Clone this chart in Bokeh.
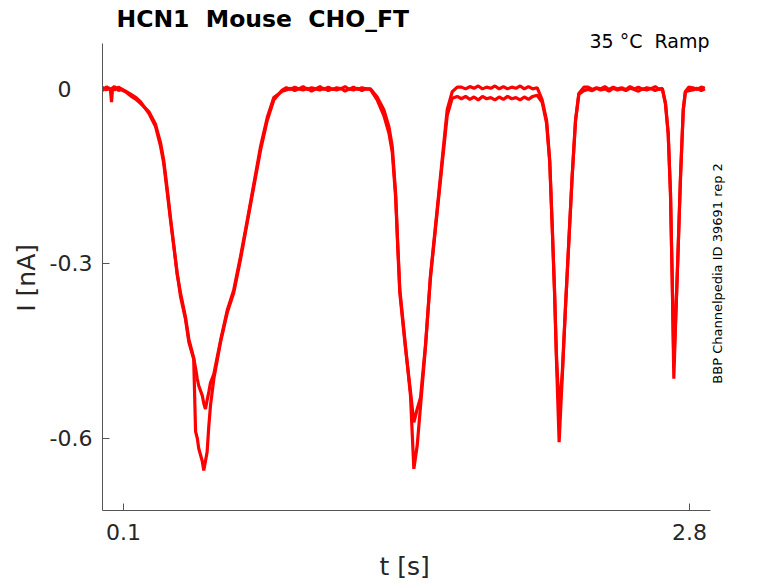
import math
from bokeh.plotting import figure
from bokeh.models import Range1d, FixedTicker, Label
from bokeh.embed import file_html
from bokeh.resources import INLINE

# ---- recorded current traces, two sweeps, split into segments ----
# time [s] / current [nA] of sweep 1 / current [nA] of sweep 2
t_start = [0.000, 0.010, 0.019, 0.029, 0.038, 0.043, 0.048, 0.057, 0.067, 0.076, 0.086]
s1_start = [0.004, 0.000, 0.005, 0.001, -0.001, -0.022, 0.002, 0.005, 0.001, 0.004, 0.002]
s2_start = [-0.002, 0.002, -0.001, 0.003, 0.000, 0.001, 0.003, -0.001, 0.002, -0.002, 0.000]

t_spike1 = [0.110, 0.134, 0.160, 0.181, 0.221, 0.253, 0.277, 0.292, 0.309, 0.324,
            0.340, 0.356, 0.372, 0.396, 0.412, 0.435, 0.444, 0.452, 0.459, 0.476,
            0.483, 0.491, 0.499, 0.507, 0.515, 0.531, 0.563, 0.595, 0.626, 0.658,
            0.690, 0.722, 0.754, 0.786, 0.817, 0.857]
s1_spike1 = [-0.003, -0.008, -0.014, -0.021, -0.041, -0.064, -0.098, -0.127, -0.178, -0.224,
             -0.270, -0.315, -0.356, -0.396, -0.435, -0.464, -0.589, -0.600, -0.618, -0.640,
             -0.656, -0.640, -0.624, -0.580, -0.544, -0.498, -0.435, -0.384, -0.350, -0.293,
             -0.230, -0.167, -0.104, -0.053, -0.018, -0.001]
s2_spike1 = [-0.004, -0.011, -0.017, -0.024, -0.038, -0.060, -0.092, -0.122, -0.172, -0.220,
             -0.268, -0.318, -0.350, -0.392, -0.430, -0.462, -0.480, -0.498, -0.510, -0.527,
             -0.540, -0.550, -0.535, -0.521, -0.505, -0.490, -0.432, -0.380, -0.345, -0.288,
             -0.226, -0.162, -0.098, -0.048, -0.014, -0.003]

t_flat1 = [0.877, 0.897, 0.917, 0.937, 0.957, 0.977, 0.997, 1.017, 1.037, 1.057,
           1.077, 1.097, 1.117, 1.137, 1.157, 1.177, 1.197, 1.217, 1.237, 1.257, 1.278]
s1_flat1 = [0.003, 0.000, 0.004, 0.001, 0.005, 0.000, 0.003, 0.001, 0.005, 0.000,
            0.004, 0.000, 0.003, 0.001, 0.005, 0.000, 0.004, 0.000, 0.003, 0.001, 0.001]
s2_flat1 = [-0.001, 0.002, -0.002, 0.001, -0.001, 0.002, -0.003, 0.001, -0.001, 0.002,
            -0.002, 0.001, -0.001, 0.002, -0.003, 0.001, -0.001, 0.002, -0.002, 0.001, 0.000]

t_spike2 = [1.310, 1.342, 1.366, 1.382, 1.398, 1.408, 1.418, 1.445, 1.469, 1.485,
            1.501, 1.517, 1.541, 1.564, 1.596, 1.620, 1.644, 1.668, 1.692]
s1_spike2 = [-0.013, -0.035, -0.064, -0.098, -0.178, -0.264, -0.344, -0.441, -0.527, -0.653,
             -0.613, -0.544, -0.441, -0.321, -0.207, -0.121, -0.035, -0.004, 0.004]
s2_spike2 = [-0.018, -0.045, -0.075, -0.108, -0.185, -0.270, -0.350, -0.445, -0.520, -0.573,
             -0.550, -0.530, -0.438, -0.325, -0.212, -0.128, -0.045, -0.015, -0.012]

t_flat2 = [1.712, 1.732, 1.752, 1.772, 1.792, 1.812, 1.832, 1.852, 1.872, 1.892,
           1.912, 1.932, 1.952, 1.972, 1.992, 2.012, 2.032, 2.052, 2.073]
s1_flat2 = [0.004, 0.001, 0.005, 0.002, 0.006, 0.001, 0.004, 0.002, 0.006, 0.001,
            0.005, 0.001, 0.004, 0.002, 0.006, 0.001, 0.005, 0.001, 0.003]
s2_flat2 = [-0.016, -0.012, -0.017, -0.013, -0.018, -0.012, -0.016, -0.014, -0.018, -0.013,
            -0.017, -0.012, -0.016, -0.014, -0.018, -0.013, -0.017, -0.012, -0.010]

t_spike3 = [2.097, 2.118, 2.133, 2.145, 2.156, 2.165, 2.178, 2.193, 2.208, 2.224,
            2.240, 2.256, 2.272, 2.296]
s1_spike3 = [-0.018, -0.053, -0.121, -0.236, -0.350, -0.464, -0.607, -0.493, -0.378, -0.264,
             -0.150, -0.053, -0.007, 0.004]
s2_spike3 = [-0.022, -0.058, -0.125, -0.236, -0.345, -0.455, -0.555, -0.488, -0.375, -0.262,
             -0.150, -0.055, -0.008, -0.002]

t_flat3 = [2.316, 2.336, 2.356, 2.376, 2.396, 2.416, 2.436, 2.456, 2.476, 2.496,
           2.516, 2.536, 2.556, 2.576, 2.596, 2.616, 2.636, 2.656, 2.670]
s1_flat3 = [0.004, 0.000, 0.003, 0.001, 0.005, 0.000, 0.004, 0.001, 0.003, 0.000,
            0.005, 0.001, 0.004, 0.000, 0.003, 0.001, 0.005, 0.000, 0.002]
s2_flat3 = [0.000, -0.002, 0.002, -0.001, 0.001, -0.003, 0.002, -0.001, 0.001, -0.002,
            0.002, 0.000, -0.003, 0.001, -0.001, 0.002, -0.002, 0.001, 0.001]

t_spike4 = [2.685, 2.698, 2.709, 2.717, 2.725, 2.733, 2.744, 2.757, 2.770, 2.780, 2.796]
s1_spike4 = [-0.024, -0.075, -0.178, -0.321, -0.498, -0.407, -0.293, -0.150, -0.035, -0.004, 0.004]
s2_spike4 = [-0.024, -0.075, -0.178, -0.321, -0.470, -0.400, -0.290, -0.148, -0.035, -0.004, -0.002]

t_end = [2.816, 2.836, 2.856, 2.873]
s1_end = [0.003, 0.000, 0.004, 0.002]
s2_end = [-0.001, 0.002, -0.002, 0.001]

t_s = t_start + t_spike1 + t_flat1 + t_spike2 + t_flat2 + t_spike3 + t_flat3 + t_spike4 + t_end
i_sweep1 = s1_start + s1_spike1 + s1_flat1 + s1_spike2 + s1_flat2 + s1_spike3 + s1_flat3 + s1_spike4 + s1_end
i_sweep2 = s2_start + s2_spike1 + s2_flat1 + s2_spike2 + s2_flat2 + s2_spike3 + s2_flat3 + s2_spike4 + s2_end

x_ticks = [0.1, 2.8]
y_ticks = [0, -0.3, -0.6]
y_tick_labels = ["0\u2007\u00a0", "-0.3", "-0.6"]

NB = "\u00a0"
title_text = "HCN1 " + NB + "Mouse " + NB + "CHO_FT"
cond_text = "35 °C " + NB + "Ramp"
side_text = "BBP Channelpedia ID 39691 rep 2"
x_label = "t [s]" + NB * 3
y_label = "I [nA]" + NB * 5

FONT = "DejaVu Sans"
# extent of the drawn axes
AX_X0, AX_X1 = 0.0, 2.9
AX_Y0, AX_Y1 = -0.7247, 0.0794
# full plotting frame (axes drawn only over their bounds)
X0, X1 = 0.0, 2.9953
Y0, Y1 = -0.7247, 0.1445

p = figure(width=770, height=583, x_range=Range1d(X0, X1), y_range=Range1d(Y0, Y1),
           output_backend="svg", toolbar_location=None,
           min_border_left=102, min_border_right=40, min_border_top=5, min_border_bottom=71)
p.outline_line_color = None
p.xgrid.visible = False
p.ygrid.visible = False
p.background_fill_color = "white"
p.border_fill_color = "white"

p.line(t_s, i_sweep1, line_color="#ff0000", line_width=3.2)
p.line(t_s, i_sweep2, line_color="#ff0000", line_width=3.2)

for ax in (p.xaxis[0], p.yaxis[0]):
    ax.axis_line_color = "#555555"
    ax.major_tick_line_color = "#555555"
    ax.major_tick_in = 7
    ax.major_tick_out = 0
    ax.minor_tick_line_color = None
    ax.major_label_text_font = FONT
    ax.major_label_text_font_size = "22px"
    ax.major_label_text_color = "#262626"
    ax.axis_label_text_font = FONT
    ax.axis_label_text_font_size = "25px"
    ax.axis_label_text_font_style = "normal"
    ax.axis_label_text_color = "#262626"

p.xaxis.bounds = (AX_X0, AX_X1)
p.yaxis.bounds = (AX_Y0, AX_Y1)
p.xaxis.ticker = FixedTicker(ticks=x_ticks)
p.yaxis.ticker = FixedTicker(ticks=y_ticks)
p.yaxis.major_label_overrides = {v: s for v, s in zip(y_ticks, y_tick_labels)}
p.xaxis.major_label_overrides = {v: str(v) for v in x_ticks}
p.xaxis.axis_label = x_label
p.yaxis.axis_label = y_label
p.xaxis.major_label_standoff = 13
p.yaxis.major_label_standoff = 10
p.xaxis.axis_label_standoff = 9
p.yaxis.axis_label_standoff = 6

p.add_layout(Label(x=0.0668, y=0.1205, text=title_text, text_font=FONT,
                   text_font_size="23.5px", text_font_style="bold", text_color="black",
                   text_align="left", text_baseline="alphabetic"))
p.add_layout(Label(x=2.895, y=0.0828, text=cond_text, text_font=FONT,
                   text_font_size="19px", text_color="black",
                   text_align="right", text_baseline="alphabetic"))
p.add_layout(Label(x=2.933, y=-0.3166, text=side_text, text_font=FONT,
                   text_font_size="13px", text_color="black", angle=math.pi / 2,
                   text_align="center", text_baseline="middle"))

open("out.html", "w").write(file_html(p, INLINE))
